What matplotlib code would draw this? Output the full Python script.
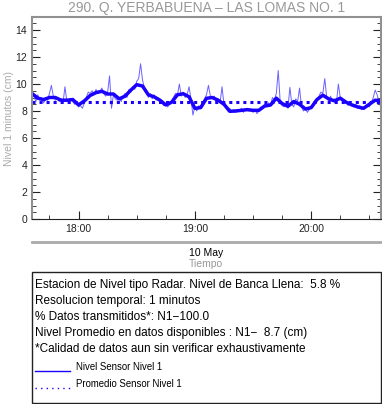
import numpy as np
import matplotlib.pyplot as plt
import matplotlib.dates as mdates
import pandas as pd

plt.rcParams['font.family'] = ['Liberation Sans', 'DejaVu Sans']

# serie de 1 minuto, 10 May 17:36 - 20:36
t0 = pd.Timestamp('2023-05-10 17:36')
nivel = [9.4, 9.1, 8.7, 9.2, 8.8, 8.9, 8.6, 8.9, 8.8, 9.3,
         9.9, 9.1, 8.8, 9.0, 8.7, 8.9, 8.6, 9.8, 8.7, 8.8,
         8.9, 8.7, 8.5, 8.6, 8.3, 8.4, 8.2, 8.6, 9.0, 9.4,
         9.3, 9.5, 9.2, 9.6, 9.3, 9.4, 9.7, 9.3, 9.1, 9.4,
         10.6, 8.2, 9.2, 8.9, 8.8, 9.0, 8.7, 9.1, 9.3, 9.0,
         9.6, 9.4, 9.8, 9.6, 10.2, 10.4, 11.5, 10.3, 9.7, 9.5,
         9.0, 9.3, 8.9, 9.2, 8.8, 9.0, 8.7, 8.6, 8.4, 8.5,
         8.3, 8.5, 8.7, 9.0, 9.3, 9.2, 10.0, 9.1, 9.4, 9.0,
         9.2, 9.8, 8.9, 7.7, 8.3, 8.0, 8.4, 8.2, 8.6, 8.9,
         9.2, 9.9, 9.1, 8.9, 9.1, 8.7, 8.9, 8.6, 9.8, 8.5,
         8.3, 8.0, 8.2, 7.9, 8.1, 7.9, 8.1, 8.0, 8.2, 7.9,
         8.1, 8.2, 8.0, 8.1, 7.9, 8.1, 7.8, 8.0, 8.3, 8.2,
         8.5, 8.3, 8.6, 8.4, 9.0, 8.8, 9.3, 11.0, 8.7, 8.4,
         8.3, 8.5, 8.2, 9.75, 8.5, 8.3, 8.9, 8.7, 9.7, 8.3,
         8.0, 8.2, 7.9, 8.1, 8.3, 8.4, 8.6, 8.9, 9.1, 9.4,
         9.3, 10.4, 9.0, 8.8, 9.1, 8.7, 8.9, 8.6, 10.0, 9.0,
         8.8, 8.6, 8.7, 8.4, 8.6, 8.5, 8.3, 8.5, 8.2, 8.4,
         8.1, 8.3, 8.2, 8.4, 8.3, 8.6, 9.0, 9.55, 9.2, 8.7,
         8.2]
# nivel suavizado, cada 3 minutos
suave = [9.3, 8.95, 8.85, 9.0, 9.0, 8.8, 8.8, 8.85, 8.45, 8.75,
         9.15, 9.36, 9.46, 9.26, 9.26, 8.9, 9.1, 9.55, 9.95, 9.85,
         9.2, 9.05, 8.8, 8.45, 8.65, 9.2, 9.28, 9.05, 8.2, 8.25,
         8.94, 9.0, 8.8, 8.5, 7.98, 8.0, 8.05, 8.1, 8.05, 8.05,
         8.37, 8.44, 8.95, 8.55, 8.35, 8.7, 8.5, 8.15, 8.25, 8.85,
         9.17, 8.9, 8.75, 8.95, 8.65, 8.45, 8.3, 8.2, 8.5, 8.8,
         8.75]
promedio = 8.7

t_raw = t0 + pd.to_timedelta(np.arange(len(nivel)), unit='min')
t_suave = t0 + pd.to_timedelta(np.arange(len(suave)) * 3, unit='min')

fig = plt.figure(figsize=(3.82, 4.04), dpi=100)
ax = fig.add_axes([32/382, 1-219/404, 349/382, 202.5/404])

ax.plot(t_raw, nivel, color='#5a50ff', lw=0.7, alpha=0.9)
ax.plot(t_suave, suave, color='#1a00ff', lw=2.5)
ax.plot([t_raw[0], t_raw[-1]], [promedio, promedio], color='#1a00ff', lw=2.2,
        linestyle=(0, (1, 1.3)))

ax.set_xlim(t_raw[0], t_raw[-1])
ax.set_ylim(0, 15)
ax.set_yticks(np.arange(0, 15, 2))
ax.set_yticks(np.arange(0, 15, 0.5), minor=True)
ax.xaxis.set_major_locator(mdates.HourLocator())
ax.xaxis.set_minor_locator(mdates.MinuteLocator(byminute=[15, 30, 45]))
ax.xaxis.set_major_formatter(mdates.DateFormatter('%H:%M'))
ax.tick_params(which='both', direction='in', right=True, labelsize=7.5, colors='#222222')
ax.tick_params(which='major', length=6)
ax.tick_params(which='minor', length=3)
ax.tick_params(axis='x', pad=3.5)
for s in ['left', 'top', 'right']:
    ax.spines[s].set_color('#909090')
    ax.spines[s].set_linewidth(1.5)
ax.spines['bottom'].set_color('#222222')

ax.set_title('290. Q. YERBABUENA \u2013 LAS LOMAS NO. 1', fontsize=10, color='#999999', pad=3)
fig.text(9/382, 1-118/404, 'Nivel 1 minutos (cm)', rotation=90, fontsize=7.5,
         color='#aaaaaa', ha='center', va='center')

# linea gris bajo el eje, fecha y etiqueta
fig.add_artist(plt.Line2D([32/382, 381/382], [1-242/404, 1-242/404], color='#aaaaaa', lw=2))
fig.text(206/382, 1-253/404, '10 May', fontsize=7.5, ha='center', va='center')
fig.text(206/382, 1-264/404, 'Tiempo', fontsize=7.5, color='#999999', ha='center', va='center')

# caja de informacion
fig.add_artist(plt.Rectangle((32/382, 1-403/404), 349/382, 131/404, fill=False,
                             ec='#222222', lw=1, transform=fig.transFigure))
lineas = ['Estacion de Nivel tipo Radar. Nivel de Banca Llena:  5.8 %',
          'Resolucion temporal: 1 minutos',
          '% Datos transmitidos*: N1\u2212100.0',
          'Nivel Promedio en datos disponibles : N1\u2212  8.7 (cm)',
          '*Calidad de datos aun sin verificar exhaustivamente']
for i, s in enumerate(lineas):
    fig.text(35/382, 1-(285 + 16*i)/404, s, fontsize=8.5, va='center')

fig.add_artist(plt.Line2D([35/382, 70/382], [1-371/404, 1-371/404], color='#1a00ff', lw=1))
fig.text(76/382, 1-367/404, 'Nivel Sensor Nivel 1', fontsize=6.9, va='center')
fig.add_artist(plt.Line2D([35/382, 70/382], [1-388/404, 1-388/404], color='#1a00ff', lw=1,
                          linestyle=(0, (1, 3))))
fig.text(76/382, 1-384/404, 'Promedio Sensor Nivel 1', fontsize=6.9, va='center')

fig.savefig('out.png', dpi=100)
